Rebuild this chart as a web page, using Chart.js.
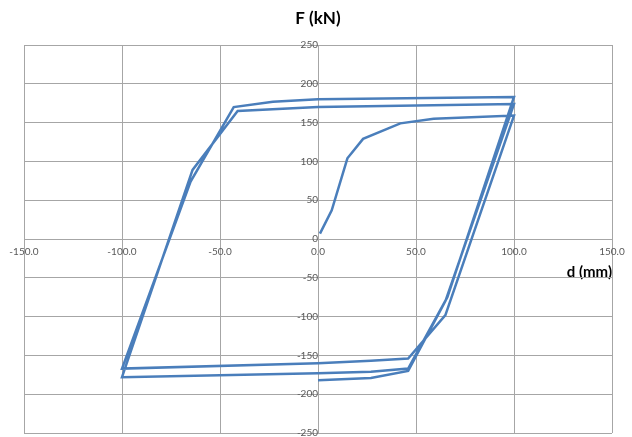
<!DOCTYPE html>
<html>
<head>
<meta charset="utf-8">
<script src="https://cdn.jsdelivr.net/npm/chart.js@4.4.1/dist/chart.umd.min.js"></script>
<style>
    html, body { margin: 0; padding: 0; background: #fff; }
    #wrap { width: 632px; height: 437px; position: relative; }
</style>
</head>
<body>
<div id="wrap"><canvas id="hysteresisChart"></canvas></div>
<script>
// Cyclic test, displacement (mm) vs force (kN)
const dispMm = [
    1, 7, 15, 23, 42, 59, 100,
    65, 46, 27, 0, -100,
    -65, -43, -23, 0, 100,
    66, 46, 27, 0, -100,
    -64, -41, 0, 100,
    65, 46, 27, 0
];
const forceKn = [
    7, 37, 104, 129, 149, 155, 159,
    -98, -154, -157, -160, -167,
    74, 170, 177, 180, 183,
    -75, -167, -171, -173, -178,
    89, 165, 170, 174,
    -80, -170, -179, -182
];
const xTicks = [-150, -100, -50, 0, 50, 100, 150];
const yTicks = [-250, -200, -150, -100, -50, 0, 50, 100, 150, 200, 250];

const points = dispMm.map((d, i) => ({ x: d, y: forceKn[i] }));

const ctx = document.getElementById('hysteresisChart').getContext('2d');
Chart.defaults.color = '#595959';
Chart.defaults.font.family = "Lato, 'Open Sans', sans-serif";

const gridColor = '#a6a6a6';

const hysteresisChart = new Chart(ctx, {
    type: 'scatter',
    data: {
        datasets: [
            {
                label: 'F-d',
                data: points,
                showLine: true,
                borderColor: '#4a7ebb',
                backgroundColor: '#4a7ebb',
                borderWidth: 2.5,
                pointRadius: 0,
                tension: 0
            }
        ]
    },
    options: {
        responsive: true,
        maintainAspectRatio: false,
        animation: false,
        layout: {
            padding: { left: 24, right: 20, top: 0, bottom: 4 }
        },
        plugins: {
            legend: { display: false },
            tooltip: { enabled: false },
            title: {
                display: true,
                text: 'F (kN)',
                color: '#000',
                font: { size: 17, weight: 'bold' },
                padding: { top: 8, bottom: 16.6 }
            }
        },
        scales: {
            x: {
                type: 'linear',
                position: { y: 0 },
                min: -150,
                max: 150,
                afterBuildTicks: scale => {
                    scale.ticks = xTicks.map(v => ({ value: v }));
                },
                grid: {
                    color: gridColor,
                    tickLength: 4
                },
                border: { color: gridColor },
                ticks: {
                    font: { size: 10 },
                    padding: 3,
                    maxRotation: 0,
                    autoSkip: false,
                    callback: v => v.toFixed(1)
                },
                title: {
                    display: true,
                    text: 'd (mm)',
                    align: 'end',
                    color: '#000',
                    font: { size: 15, weight: 'bold' },
                    padding: { top: 2, bottom: 0 }
                }
            },
            y: {
                type: 'linear',
                position: { x: 0 },
                min: -250,
                max: 250,
                afterBuildTicks: scale => {
                    scale.ticks = yTicks.map(v => ({ value: v }));
                },
                // let the end labels hang over the edge like the original
                afterFit: scale => {
                    scale.paddingTop = 0;
                    scale.paddingBottom = 0;
                },
                grid: {
                    color: gridColor,
                    tickLength: 3
                },
                border: { color: gridColor },
                ticks: {
                    font: { size: 10 },
                    padding: 3,
                    autoSkip: false
                }
            }
        }
    }
});
</script>
</body>
</html>
